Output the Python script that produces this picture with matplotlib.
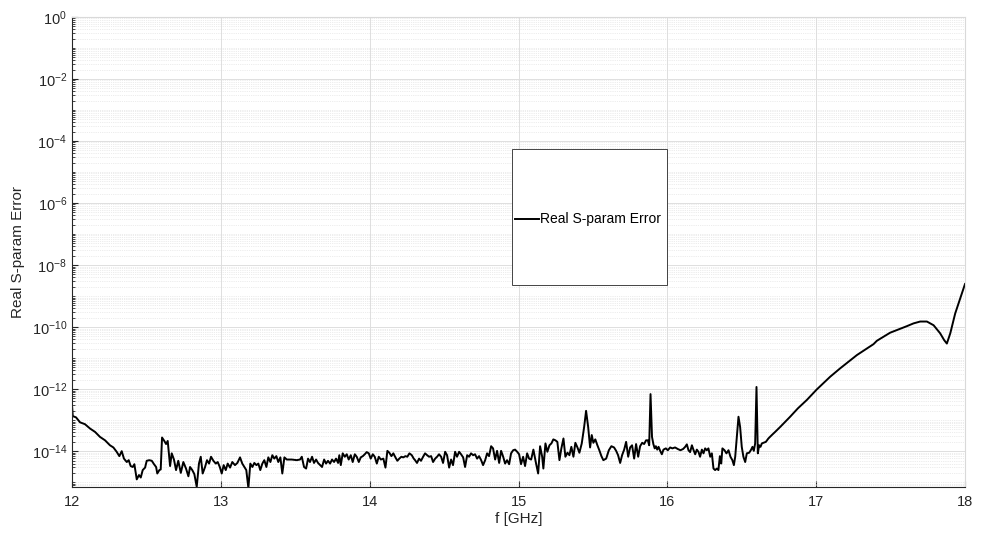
import numpy as np
import matplotlib
matplotlib.use("Agg")
import matplotlib.pyplot as plt
from matplotlib.ticker import LogLocator, FixedLocator, NullFormatter
from matplotlib.lines import Line2D
from matplotlib.patches import Rectangle

plt.rcParams['font.family'] = ['Liberation Sans', 'DejaVu Sans']

# frequency samples [GHz] and log10 of the error
freq = [
    12.000, 12.005, 12.027, 12.054, 12.087, 12.121, 12.155, 12.188, 12.222, 12.255,
    12.278, 12.300, 12.318, 12.334, 12.349, 12.368, 12.381, 12.394, 12.408, 12.419,
    12.435, 12.450, 12.462, 12.475, 12.491, 12.502, 12.519, 12.536, 12.551, 12.565,
    12.573, 12.587, 12.596, 12.605, 12.620, 12.632, 12.643, 12.659, 12.670, 12.685,
    12.699, 12.714, 12.731, 12.748, 12.766, 12.782, 12.793, 12.808, 12.822, 12.838,
    12.853, 12.865, 12.878, 12.894, 12.907, 12.921, 12.934, 12.950, 12.966, 12.979,
    12.993, 13.006, 13.019, 13.033, 13.046, 13.062, 13.077, 13.095, 13.111, 13.129,
    13.144, 13.158, 13.171, 13.185, 13.198, 13.212, 13.225, 13.239, 13.252, 13.265,
    13.279, 13.292, 13.306, 13.319, 13.333, 13.346, 13.359, 13.373, 13.386, 13.400,
    13.413, 13.427, 13.443, 13.476, 13.510, 13.532, 13.544, 13.559, 13.573, 13.586,
    13.599, 13.613, 13.626, 13.640, 13.653, 13.667, 13.680, 13.694, 13.707, 13.720,
    13.734, 13.747, 13.761, 13.774, 13.788, 13.796, 13.806, 13.819, 13.833, 13.846,
    13.859, 13.873, 13.886, 13.900, 13.913, 13.927, 13.940, 13.954, 13.967, 13.980,
    13.994, 14.007, 14.021, 14.034, 14.048, 14.061, 14.075, 14.092, 14.106, 14.119,
    14.132, 14.146, 14.159, 14.173, 14.186, 14.199, 14.213, 14.226, 14.240, 14.253,
    14.267, 14.283, 14.296, 14.305, 14.318, 14.332, 14.345, 14.359, 14.372, 14.386,
    14.399, 14.413, 14.426, 14.440, 14.453, 14.466, 14.480, 14.493, 14.507, 14.520,
    14.534, 14.547, 14.560, 14.574, 14.587, 14.601, 14.614, 14.628, 14.641, 14.655,
    14.668, 14.681, 14.695, 14.708, 14.722, 14.735, 14.749, 14.762, 14.776, 14.789,
    14.802, 14.816, 14.829, 14.843, 14.856, 14.870, 14.883, 14.897, 14.910, 14.923,
    14.937, 14.950, 14.964, 14.977, 14.991, 15.004, 15.017, 15.031, 15.044, 15.058,
    15.071, 15.085, 15.100, 15.118, 15.132, 15.145, 15.159, 15.167, 15.181, 15.194,
    15.208, 15.221, 15.234, 15.248, 15.261, 15.275, 15.288, 15.302, 15.315, 15.329,
    15.342, 15.355, 15.369, 15.382, 15.396, 15.409, 15.425, 15.441, 15.454, 15.468,
    15.481, 15.492, 15.503, 15.516, 15.530, 15.543, 15.557, 15.570, 15.589, 15.607,
    15.624, 15.642, 15.656, 15.669, 15.683, 15.696, 15.710, 15.723, 15.737, 15.750,
    15.763, 15.777, 15.790, 15.804, 15.817, 15.831, 15.844, 15.857, 15.869, 15.878,
    15.887, 15.897, 15.906, 15.915, 15.923, 15.932, 15.941, 15.952, 15.963, 15.974,
    15.990, 16.003, 16.019, 16.034, 16.052, 16.070, 16.088, 16.106, 16.120, 16.131,
    16.142, 16.153, 16.165, 16.175, 16.187, 16.198, 16.209, 16.220, 16.232, 16.243,
    16.254, 16.265, 16.276, 16.288, 16.299, 16.310, 16.321, 16.333, 16.343, 16.353,
    16.362, 16.370, 16.384, 16.397, 16.411, 16.424, 16.437, 16.447, 16.456, 16.469,
    16.478, 16.489, 16.500, 16.511, 16.523, 16.534, 16.550, 16.563, 16.572, 16.581,
    16.590, 16.599, 16.608, 16.617, 16.626, 16.635, 16.646, 16.662, 16.679, 16.702,
    16.724, 16.758, 16.825, 16.877, 16.937, 17.004, 17.094, 17.161, 17.274, 17.385,
    17.408, 17.497, 17.609, 17.654, 17.699, 17.744, 17.789, 17.833, 17.860, 17.878,
    17.901, 17.934, 17.968, 18.000,
]
err_exp = [
    -12.52, -12.87, -12.91, -13.07, -13.13, -13.27, -13.38, -13.54, -13.65, -13.81,
    -13.88, -14.02, -14.16, -14.00, -14.24, -14.35, -14.29, -14.48, -14.51, -14.42,
    -14.91, -14.77, -14.85, -14.61, -14.53, -14.31, -14.29, -14.31, -14.42, -14.51,
    -14.72, -14.61, -14.59, -13.56, -13.67, -13.77, -13.67, -14.48, -14.07, -14.27,
    -14.61, -14.31, -14.70, -14.35, -14.56, -14.81, -14.51, -14.61, -14.74, -15.15,
    -14.40, -14.18, -14.72, -14.51, -14.29, -14.40, -14.18, -14.31, -14.40, -14.35,
    -14.51, -14.72, -14.45, -14.61, -14.40, -14.53, -14.35, -14.45, -14.38, -14.20,
    -14.40, -14.51, -14.61, -15.19, -14.40, -14.51, -14.38, -14.45, -14.40, -14.61,
    -14.40, -14.29, -14.51, -14.20, -14.35, -14.13, -14.24, -14.16, -14.35, -14.20,
    -14.72, -14.20, -14.27, -14.27, -14.29, -14.27, -14.18, -14.51, -14.56, -14.24,
    -14.35, -14.18, -14.38, -14.27, -14.38, -14.45, -14.51, -14.27, -14.40, -14.31,
    -14.40, -14.27, -14.35, -14.24, -14.38, -14.13, -14.45, -14.07, -14.18, -14.10,
    -14.27, -14.13, -14.35, -14.10, -14.18, -14.35, -14.20, -14.16, -14.10, -14.03,
    -14.07, -14.24, -14.10, -14.18, -14.40, -14.18, -14.27, -14.24, -14.53, -13.99,
    -14.05, -14.16, -14.07, -14.20, -14.31, -14.24, -14.18, -14.20, -14.16, -14.18,
    -14.07, -14.13, -14.24, -14.29, -14.38, -14.24, -14.31, -14.18, -14.07, -14.13,
    -14.18, -14.16, -14.35, -14.24, -14.18, -14.10, -14.18, -14.38, -14.02, -14.13,
    -14.53, -14.27, -14.45, -14.02, -14.18, -14.02, -14.10, -14.20, -14.51, -14.13,
    -14.18, -14.07, -14.13, -14.10, -14.24, -14.16, -14.29, -14.45, -14.29, -14.07,
    -14.16, -13.84, -13.91, -14.27, -13.99, -14.38, -13.99, -14.18, -14.40, -14.29,
    -14.42, -14.07, -13.97, -13.95, -14.02, -14.10, -14.42, -14.18, -14.48, -14.07,
    -14.24, -14.27, -13.95, -14.40, -14.72, -13.84, -14.18, -14.56, -13.75, -14.02,
    -13.81, -13.75, -13.62, -13.65, -13.70, -14.29, -13.91, -13.59, -14.18, -14.05,
    -14.13, -13.86, -14.18, -13.73, -13.88, -14.05, -13.75, -13.22, -12.70, -13.22,
    -13.88, -13.48, -13.73, -13.62, -13.81, -13.97, -14.16, -14.29, -14.24, -13.97,
    -13.84, -13.88, -13.99, -14.13, -14.38, -14.13, -13.95, -13.70, -14.18, -13.88,
    -13.81, -14.24, -13.77, -14.18, -13.84, -13.73, -13.77, -13.65, -13.65, -13.81,
    -12.16, -13.54, -13.77, -13.91, -13.84, -13.95, -13.86, -13.99, -14.10, -13.95,
    -13.91, -13.97, -13.88, -13.91, -13.88, -13.93, -13.97, -13.93, -13.86, -13.78,
    -13.97, -14.03, -13.81, -13.95, -14.10, -13.95, -14.02, -14.18, -13.95, -14.07,
    -13.91, -13.97, -13.91, -14.18, -14.07, -14.56, -14.61, -14.56, -14.61, -14.16,
    -14.40, -13.91, -13.97, -14.07, -13.97, -14.18, -14.29, -14.45, -14.18, -13.43,
    -12.89, -13.22, -13.86, -14.18, -14.35, -14.07, -14.05, -13.95, -13.86, -13.99,
    -13.75, -11.93, -14.07, -13.81, -13.86, -13.75, -13.73, -13.70, -13.59, -13.48,
    -13.38, -13.22, -12.89, -12.62, -12.35, -12.01, -11.60, -11.33, -10.90, -10.55,
    -10.44, -10.18, -9.97, -9.88, -9.82, -9.82, -9.94, -10.20, -10.42, -10.53,
    -10.20, -9.56, -9.07, -8.61,
]

freq = np.array(freq)
err = 10.0 ** np.array(err_exp)

axis_col = (0.15, 0.15, 0.15)

fig = plt.figure(figsize=(9.81, 5.39), dpi=100)
ax = fig.add_axes([0.0734, 0.0965, 0.9103, 0.872])

line, = ax.semilogy(freq, err, color='black', linewidth=1.4)

ax.set_xlim(12, 18)
ax.set_ylim(7e-16, 1)
ax.set_xticks([12, 13, 14, 15, 16, 17, 18])
ax.yaxis.set_major_locator(FixedLocator([10.0 ** k for k in range(-14, 1, 2)]))
ax.yaxis.set_minor_locator(LogLocator(base=10, subs=np.arange(1, 10), numticks=50))
ax.yaxis.set_minor_formatter(NullFormatter())

ax.grid(True, which='major', color=(0.87, 0.87, 0.87), linewidth=0.7, linestyle='-')
ax.grid(True, which='minor', axis='y', color=(0.86, 0.86, 0.86), linewidth=0.5, linestyle=':')
ax.set_axisbelow(True)

ax.tick_params(axis='both', which='both', direction='in', colors=axis_col,
               labelsize=10.5, labelcolor=axis_col)
ax.tick_params(which='major', length=4)
ax.tick_params(which='minor', length=2)
ax.tick_params(axis='x', pad=6)
for side in ['left', 'bottom']:
    ax.spines[side].set_color(axis_col)
    ax.spines[side].set_linewidth(0.8)
for side in ['top', 'right']:
    ax.spines[side].set_color((0.85, 0.85, 0.85))
    ax.spines[side].set_linewidth(0.8)

ax.set_xlabel('f [GHz]', fontsize=11, color=axis_col, labelpad=2)
ax.set_ylabel('Real S-param Error', fontsize=11, color=axis_col, labelpad=5)

# legend box, drawn by hand to match its odd size
fig.patches.append(Rectangle((512 / 981, 1 - 285 / 539), 155 / 981, 136 / 539,
                             transform=fig.transFigure, facecolor='white',
                             edgecolor=(0.15, 0.15, 0.15), linewidth=0.6, zorder=5))
fig.lines.append(Line2D([515 / 981, 539 / 981], [1 - 219 / 539, 1 - 219 / 539],
                        transform=fig.transFigure, color='black', linewidth=1.4, zorder=6))
fig.text(540 / 981, 1 - 219 / 539, 'Real S-param Error', fontsize=10,
         color='black', va='center', ha='left', zorder=6)

fig.savefig('out.png', dpi=100)
